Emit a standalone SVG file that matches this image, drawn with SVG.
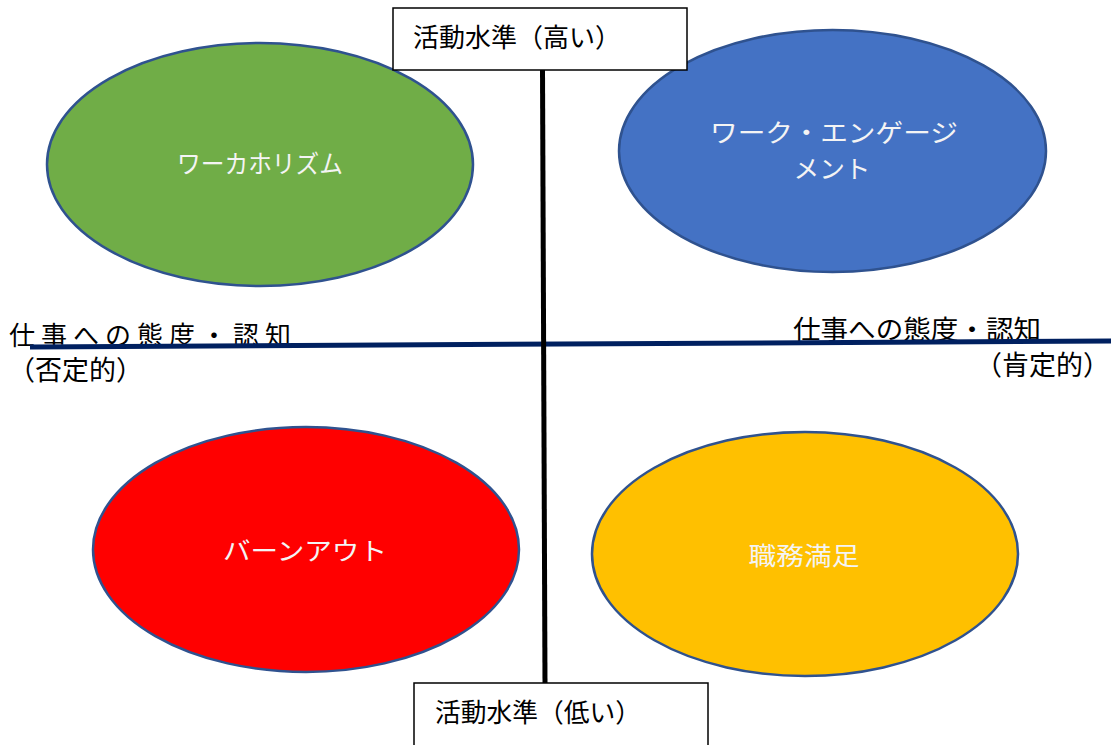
<svg xmlns="http://www.w3.org/2000/svg" width="1111" height="745" viewBox="0 0 1111 745">
<style>
.t{font-family:"Liberation Serif","Noto Sans CJK JP",serif;font-size:26px;fill:#000}
.p{font-family:"Liberation Serif","Noto Sans CJK JP",serif;font-size:27px;fill:#000}
.w{font-family:"Liberation Serif","Noto Sans CJK JP",serif;font-size:25px;fill:#f4f4f4;text-anchor:middle}
.el{stroke:#2F528F;stroke-width:2.5}
.box{fill:#fff;stroke:#000;stroke-width:1.5}
</style>
<rect width="1111" height="745" fill="#fff"/>
<g id="workaholism">
<ellipse class="el" cx="260" cy="164.5" rx="213" ry="121.5" fill="#70AD47"/>
<text class="w" x="260" y="173" textLength="166" lengthAdjust="spacingAndGlyphs">ワーカホリズム</text>
</g>
<g id="engagement">
<ellipse class="el" cx="832.5" cy="151" rx="213.5" ry="121" fill="#4472C4"/>
<text class="w" x="834" y="142" textLength="248" lengthAdjust="spacingAndGlyphs">ワーク・エンゲージ</text>
<text class="w" x="832" y="178" textLength="77" lengthAdjust="spacingAndGlyphs">メント</text>
</g>
<g id="burnout">
<ellipse class="el" cx="306" cy="549.5" rx="213" ry="122.5" fill="#FF0000"/>
<text class="w" x="305" y="560" textLength="164" lengthAdjust="spacingAndGlyphs">バーンアウト</text>
</g>
<g id="satisfaction">
<ellipse class="el" cx="805" cy="554" rx="213" ry="122" fill="#FFC000"/>
<text class="w" x="804" y="565" textLength="111" lengthAdjust="spacingAndGlyphs">職務満足</text>
</g>
<g id="label-negative">
<text class="t" x="9" y="345" textLength="282" lengthAdjust="spacing">仕事への態度・認知</text>
<text class="p" x="8" y="380">（否定的）</text>
</g>
<g id="label-positive">
<text class="t" x="793" y="339" textLength="248" lengthAdjust="spacingAndGlyphs">仕事への態度・認知</text>
<text class="p" x="975" y="375">（肯定的）</text>
</g>
<g id="connectors">
<line x1="30" y1="347" x2="1111" y2="341" stroke="#002060" stroke-width="5"/>
<line x1="542.5" y1="70" x2="545" y2="683" stroke="#000" stroke-width="5"/>
</g>
<g id="activity-high">
<rect class="box" x="393" y="8" width="294" height="62"/>
<text class="t" x="413" y="47" textLength="208" lengthAdjust="spacingAndGlyphs">活動水準（高い）</text>
</g>
<g id="activity-low">
<rect class="box" x="414" y="683" width="294" height="70"/>
<text class="t" x="435" y="722" textLength="206" lengthAdjust="spacingAndGlyphs">活動水準（低い）</text>
</g>
</svg>
